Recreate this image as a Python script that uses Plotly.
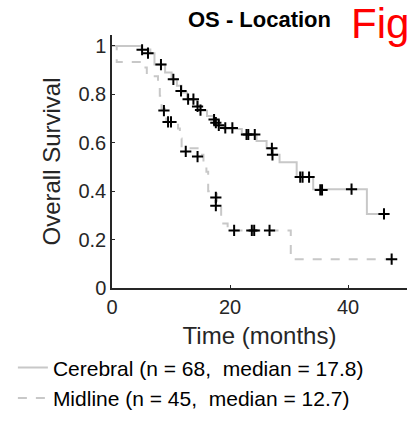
import plotly.graph_objects as go

# Kaplan-Meier step curves (time in months, survival probability)
cer_t = [0, 5.0, 6.5, 7.2, 9.0, 10.1, 11.0, 11.8, 12.7, 14.4, 15.0, 16.1, 17.2, 17.5, 18.0, 19.0,
         22.0, 24.5, 26.2, 27.1, 28.4, 31.3, 34.1, 43.2, 46.1]
cer_s = [1.0, 0.985, 0.97, 0.923, 0.89, 0.862, 0.835, 0.808, 0.78, 0.753, 0.732, 0.71, 0.697, 0.683,
         0.67, 0.657, 0.634, 0.607, 0.577, 0.55, 0.519, 0.458, 0.408, 0.306, 0.306]

mid_t = [0, 0.8, 5.3, 5.9, 7.8, 8.1, 8.4, 9.2, 11.2, 11.5, 11.8, 14.8, 15.5, 16.0, 16.3, 17.8,
         18.5, 19.6, 30.3, 47.4]
mid_s = [1.0, 0.933, 0.911, 0.875, 0.835, 0.794, 0.74, 0.686, 0.659, 0.618, 0.577, 0.55, 0.51,
         0.48, 0.40, 0.34, 0.266, 0.238, 0.119, 0.119]

# censored observations
cer_ct = [5.1, 6.1, 8.3, 10.4, 11.7, 12.9, 13.8, 14.5, 15.0, 17.3, 17.6, 18.1, 19.2, 20.4, 22.8,
          23.1, 24.2, 27.1, 27.2, 31.9, 32.3, 33.4, 35.3, 35.6, 40.6, 46.1]
cer_cs = [0.984, 0.97, 0.923, 0.862, 0.814, 0.78, 0.78, 0.75, 0.735, 0.696, 0.683, 0.672, 0.661,
          0.661, 0.634, 0.634, 0.634, 0.577, 0.55, 0.458, 0.458, 0.458, 0.405, 0.405, 0.408, 0.306]

mid_ct = [8.8, 9.5, 10.0, 12.5, 14.5, 17.6, 17.6, 20.7, 23.7, 24.1, 26.7, 47.4]
mid_cs = [0.733, 0.686, 0.686, 0.564, 0.543, 0.374, 0.34, 0.238, 0.238, 0.238, 0.238, 0.119]

labels = ["Cerebral (n = 68,\u00a0\u00a0median = 17.8)", "Midline (n = 45,\u00a0\u00a0median = 12.7)"]

font = "Liberation Sans, Arial, sans-serif"
ink = "#262626"

fig = go.Figure()
fig.add_trace(go.Scatter(x=cer_t, y=cer_s, mode="lines", line_shape="hv", name=labels[0],
                         line=dict(color="#c8c8c8", width=2)))
fig.add_trace(go.Scatter(x=mid_t, y=mid_s, mode="lines", line_shape="hv", name=labels[1],
                         line=dict(color="#c8c8c8", width=2, dash="dash")))
for ct, cs in [(cer_ct, cer_cs), (mid_ct, mid_cs)]:
    fig.add_trace(go.Scatter(x=ct, y=cs, mode="markers", showlegend=False,
                             marker=dict(symbol="cross-thin", size=8,
                                         line=dict(color="black", width=2))))

fig.update_layout(
    width=411, height=423,
    margin=dict(l=112, r=4, t=35, b=127),
    paper_bgcolor="white", plot_bgcolor="white",
    font=dict(family=font, size=20, color=ink),
    title=dict(text="<b>OS - Location</b>", x=0.5, xref="paper", xanchor="center",
               y=0.955, yanchor="middle", font=dict(size=22, color="black")),
    legend=dict(x=-0.336, y=-0.235, xanchor="left", yanchor="top", bgcolor="rgba(0,0,0,0)",
                font=dict(size=21, color="black"), tracegroupgap=0),
    annotations=[dict(text="Fig", xref="paper", yref="paper", x=0.803, y=1.045,
                      xanchor="left", yanchor="middle", showarrow=False,
                      font=dict(size=42, color="red", family=font))],
)
fig.update_xaxes(range=[0, 50], tickvals=[0, 20, 40], ticks="inside", ticklen=3,
                 showline=True, linecolor=ink, linewidth=1.5, tickcolor=ink, showgrid=False,
                 zeroline=False, automargin=False, title=dict(text="Time (months)", standoff=10))
fig.update_yaxes(range=[0, 1.045], tickvals=[0, 0.2, 0.4, 0.6, 0.8, 1],
                 ticktext=["0", "0.2", "0.4", "0.6", "0.8", "1"], ticks="inside", ticklen=3,
                 showline=True, linecolor=ink, linewidth=1.5, tickcolor=ink, showgrid=False,
                 zeroline=False, automargin=False, title=dict(text="Overall Survival", standoff=11))

# drop the default page margin so the figure sits at the window's corner
fig.write_html("out.html", config={"displayModeBar": False},
               post_script="document.body.style.margin = '0';")
